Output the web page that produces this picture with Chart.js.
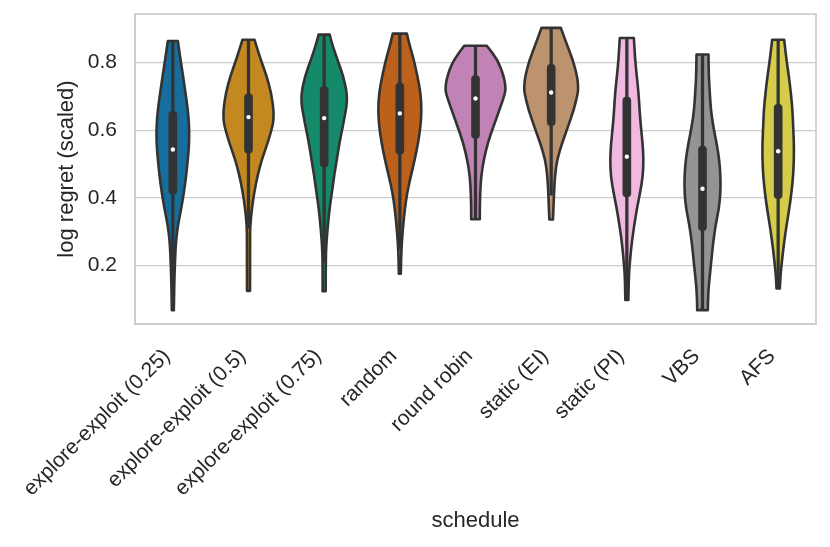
<!DOCTYPE html>
<html>
<head>
<meta charset="utf-8">
<script src="https://cdn.jsdelivr.net/npm/chart.js@4.4.0/dist/chart.umd.min.js"></script>
<style>
  html, body { margin: 0; padding: 0; background: #fff; }
  #wrap { width: 830px; height: 547px; }
</style>
</head>
<body>
<div id="wrap"><canvas id="violinChart"></canvas></div>
<script>
// Schedules on the x axis
const categories = [
    "explore-exploit (0.25)", "explore-exploit (0.5)", "explore-exploit (0.75)",
    "random", "round robin", "static (EI)", "static (PI)", "VBS", "AFS"
];

// Box summary
const medians     = [0.543, 0.639, 0.636, 0.650, 0.694, 0.712, 0.522, 0.427, 0.538];
const q1          = [0.411, 0.532, 0.492, 0.529, 0.576, 0.614, 0.403, 0.303, 0.398];
const q3          = [0.656, 0.708, 0.730, 0.740, 0.762, 0.795, 0.698, 0.553, 0.677];
const whiskerLow  = [0.068, 0.310, 0.209, 0.249, 0.337, 0.408, 0.100, 0.068, 0.132];
const whiskerHigh = [0.864, 0.868, 0.883, 0.886, 0.850, 0.903, 0.873, 0.824, 0.868];

// Density outline per schedule: [value, half width in category units]
const profileEE025 = [[0.864,.066],[0.808,.102],[0.759,.136],[0.710,.168],[0.661,.198],[0.612,.216],[0.563,.216],[0.514,.198],[0.465,.176],[0.416,.146],[0.367,.110],[0.318,.066],[0.269,.040],[0.220,.030],[0.171,.022],[0.122,.017],[0.068,.013]];
const profileEE05  = [[0.868,.079],[0.808,.163],[0.759,.242],[0.710,.300],[0.661,.331],[0.632,.331],[0.612,.317],[0.563,.255],[0.514,.176],[0.465,.119],[0.416,.075],[0.367,.044],[0.318,.022],[0.269,.020],[0.125,.020]];
const profileEE075 = [[0.883,.073],[0.857,.102],[0.808,.176],[0.759,.255],[0.710,.300],[0.680,.300],[0.661,.287],[0.612,.247],[0.563,.202],[0.514,.168],[0.465,.132],[0.416,.102],[0.367,.070],[0.318,.049],[0.269,.030],[0.220,.021],[0.124,.020]];
const profileRandom = [[0.886,.093],[0.857,.123],[0.808,.185],[0.759,.234],[0.710,.274],[0.661,.287],[0.612,.274],[0.563,.242],[0.514,.198],[0.465,.146],[0.416,.097],[0.367,.066],[0.318,.044],[0.269,.026],[0.220,.017],[0.176,.013]];
const profileRR    = [[0.850,.149],[0.808,.295],[0.759,.374],[0.730,.397],[0.710,.393],[0.661,.317],[0.612,.238],[0.563,.163],[0.514,.110],[0.465,.075],[0.416,.062],[0.367,.057],[0.337,.057]];
const profileEI    = [[0.903,.128],[0.857,.202],[0.808,.287],[0.759,.344],[0.730,.357],[0.710,.353],[0.661,.300],[0.612,.225],[0.563,.146],[0.514,.079],[0.465,.050],[0.416,.038],[0.367,.030],[0.336,.024]];
const profilePI    = [[0.873,.093],[0.808,.110],[0.759,.132],[0.710,.155],[0.661,.168],[0.612,.185],[0.563,.208],[0.514,.221],[0.465,.212],[0.416,.176],[0.367,.132],[0.318,.097],[0.269,.066],[0.220,.044],[0.171,.026],[0.098,.020]];
const profileVBS   = [[0.824,.079],[0.759,.083],[0.710,.097],[0.661,.110],[0.612,.142],[0.563,.185],[0.514,.221],[0.465,.238],[0.416,.238],[0.367,.216],[0.318,.172],[0.269,.142],[0.220,.119],[0.171,.097],[0.122,.075],[0.068,.070]];
const profileAFS   = [[0.868,.079],[0.808,.110],[0.759,.142],[0.710,.168],[0.661,.189],[0.612,.198],[0.563,.208],[0.514,.208],[0.465,.198],[0.416,.176],[0.367,.146],[0.318,.110],[0.269,.079],[0.220,.053],[0.171,.030],[0.132,.022]];
const violinProfiles = [profileEE025, profileEE05, profileEE075, profileRandom, profileRR, profileEI, profilePI, profileVBS, profileAFS];

const yTicks = [0.2, 0.4, 0.6, 0.8];

const violinColors = ["#176e9c", "#c3881f", "#158a6a", "#bb611b", "#c182b5", "#bd926e", "#f1b8e0", "#949494", "#d5cc4a"];
const inkColor = "#333333";
const frameColor = "#cccccc";
const textColor = "#262626";
const fontFamily = "'Liberation Sans', Arial, Helvetica, sans-serif";

// smooth a polyline through points with midpoint quadratics
function traceSmooth(ctx, pts, first) {
    if (first) ctx.moveTo(pts[0].x, pts[0].y); else ctx.lineTo(pts[0].x, pts[0].y);
    for (let k = 1; k < pts.length - 1; k++) {
        const mx = (pts[k].x + pts[k + 1].x) / 2;
        const my = (pts[k].y + pts[k + 1].y) / 2;
        ctx.quadraticCurveTo(pts[k].x, pts[k].y, mx, my);
    }
    const last = pts[pts.length - 1];
    ctx.lineTo(last.x, last.y);
}

// Plot frame + violin bodies
const violinPlugin = {
    id: "violins",
    beforeDatasetsDraw(chart) {
        const { ctx, chartArea: a, scales: { x, y } } = chart;
        ctx.save();
        ctx.strokeStyle = frameColor;
        ctx.lineWidth = 1.7;
        ctx.strokeRect(a.left, a.top, a.right - a.left, a.bottom - a.top);

        violinProfiles.forEach((profile, i) => {
            const left = profile.map(([v, w]) => ({ x: x.getPixelForValue(i - w), y: y.getPixelForValue(v) }));
            const right = profile.map(([v, w]) => ({ x: x.getPixelForValue(i + w), y: y.getPixelForValue(v) })).reverse();
            ctx.beginPath();
            traceSmooth(ctx, left, true);
            traceSmooth(ctx, right, false);
            ctx.closePath();
            ctx.fillStyle = violinColors[i];
            ctx.fill();
            ctx.lineWidth = 2.6;
            ctx.lineJoin = "round";
            ctx.strokeStyle = inkColor;
            ctx.stroke();
        });
        ctx.restore();
    }
};

const ctx = document.getElementById("violinChart").getContext("2d");
new Chart(ctx, {
    type: "bar",
    data: {
        labels: categories,
        datasets: [
            {
                type: "line",
                data: medians,
                showLine: false,
                pointRadius: 2.2,
                pointBackgroundColor: "#ffffff",
                pointBorderWidth: 0,
                order: 0
            },
            {
                data: q1.map((lo, i) => [lo, q3[i]]),
                backgroundColor: inkColor,
                barThickness: 8,
                borderRadius: 4,
                borderSkipped: false,
                grouped: false,
                order: 1
            },
            {
                data: whiskerLow.map((lo, i) => [lo, whiskerHigh[i]]),
                backgroundColor: inkColor,
                barThickness: 2.6,
                grouped: false,
                order: 2
            }
        ]
    },
    options: {
        responsive: true,
        maintainAspectRatio: false,
        animation: false,
        layout: { padding: { top: 14, right: 14, left: 0, bottom: 0 } },
        plugins: { legend: { display: false }, tooltip: { enabled: false } },
        scales: {
            x: {
                offset: true,
                grid: { display: false },
                border: { display: true, color: frameColor, width: 1.7 },
                ticks: {
                    autoSkip: false,
                    minRotation: 45,
                    maxRotation: 45,
                    padding: 12,
                    labelOffset: -6,
                    color: textColor,
                    font: { family: fontFamily, size: 21 }
                },
                title: {
                    display: true,
                    text: "schedule",
                    color: textColor,
                    font: { family: fontFamily, size: 22 },
                    padding: { top: 0, bottom: 13 }
                },
                afterFit(scale) {
                    scale.height = 223;
                    scale.paddingLeft = 0;
                    scale.paddingRight = 0;
                }
            },
            y: {
                min: 0.027,
                max: 0.944,
                grid: { color: frameColor, lineWidth: 1.3, drawTicks: false },
                border: { display: true, color: frameColor, width: 1.7 },
                afterBuildTicks(scale) {
                    scale.ticks = yTicks.map(value => ({ value }));
                },
                ticks: {
                    padding: 18,
                    color: textColor,
                    font: { family: fontFamily, size: 21 },
                    callback: v => v.toFixed(1)
                },
                title: {
                    display: true,
                    text: "log regret (scaled)",
                    color: textColor,
                    font: { family: fontFamily, size: 22 },
                    padding: { top: 54, bottom: 0 }
                },
                afterFit(scale) {
                    scale.width = 135;
                    scale.paddingTop = 0;
                    scale.paddingBottom = 0;
                }
            }
        }
    },
    plugins: [violinPlugin]
});
</script>
</body>
</html>
